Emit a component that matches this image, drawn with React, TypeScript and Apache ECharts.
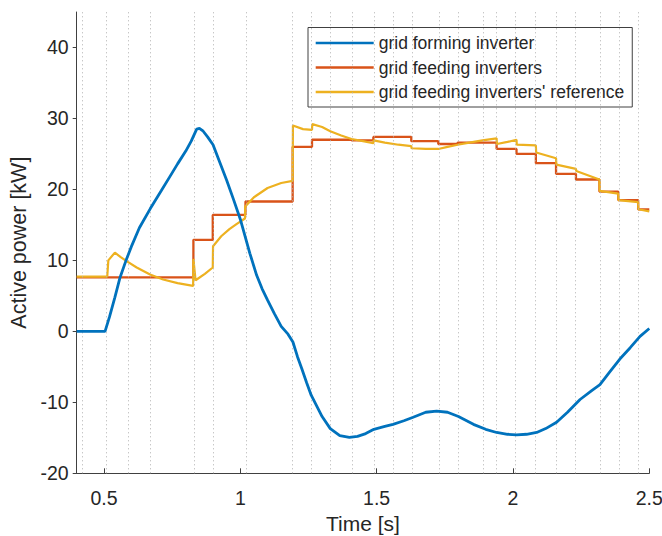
import React, { useEffect, useRef } from "react";
import * as echarts from "echarts";

// ---- data ----
const xTicks = [0.5, 1, 1.5, 2, 2.5];
const yTicks = [-20, -10, 0, 10, 20, 30, 40];

// times of the vertical dotted event lines [s]
const eventTimes = [
  0.418, 0.512, 0.593, 0.672, 0.827, 0.897, 1.019, 1.192, 1.263, 1.332, 1.408,
  1.488, 1.557, 1.627, 1.726, 1.797, 1.888, 1.94, 2.013, 2.084, 2.158, 2.231,
  2.317, 2.386, 2.459,
];

// grid forming inverter [time, kW]
const formingPower: [number, number][] = [
  [0.4, 0], [0.504, 0], [0.52, 2.0], [0.54, 4.8], [0.559, 7.6], [0.58, 9.9],
  [0.6, 11.9], [0.63, 14.6], [0.67, 17.3], [0.71, 19.8], [0.74, 21.7],
  [0.77, 23.6], [0.8, 25.4], [0.82, 26.8], [0.84, 28.5], [0.85, 28.6],
  [0.864, 28.2], [0.88, 27.4], [0.9, 26.3], [0.925, 23.8], [0.95, 21.3],
  [0.975, 18.6], [1.0, 15.8], [1.035, 11.0], [1.06, 7.9], [1.08, 6.0],
  [1.1, 4.4], [1.125, 2.5], [1.15, 0.7], [1.175, -0.4], [1.193, -1.5],
  [1.21, -3.6], [1.225, -5.2], [1.243, -7.2], [1.26, -9.0], [1.28, -10.5],
  [1.3, -12.0], [1.33, -13.7], [1.365, -14.7], [1.4, -14.95], [1.43, -14.8],
  [1.46, -14.4], [1.49, -13.8], [1.53, -13.4], [1.56, -13.1], [1.6, -12.6],
  [1.634, -12.1], [1.68, -11.4], [1.72, -11.25], [1.76, -11.4], [1.8, -12.0],
  [1.855, -13.1], [1.9, -13.8], [1.94, -14.25], [1.98, -14.5], [2.013, -14.6],
  [2.05, -14.5], [2.087, -14.25], [2.12, -13.7], [2.16, -12.8], [2.2, -11.4],
  [2.246, -9.6], [2.29, -8.3], [2.319, -7.5], [2.355, -5.7], [2.392, -3.9],
  [2.43, -2.3], [2.466, -0.7], [2.5, 0.4],
];

// grid feeding inverters (held values, step) [time, kW]
const feedingPower: [number, number][] = [
  [0.4, 7.6], [0.828, 12.9], [0.899, 16.4], [1.019, 18.3], [1.192, 26.0],
  [1.263, 27.0], [1.408, 26.9], [1.488, 27.4], [1.627, 26.8], [1.726, 26.4],
  [1.797, 26.6], [1.94, 25.7], [2.013, 25.0], [2.084, 23.7], [2.158, 22.2],
  [2.231, 21.4], [2.317, 19.7], [2.386, 18.5], [2.459, 17.2], [2.5, 17.2],
];

// grid feeding inverters' reference [time, kW]
const referencePower: [number, number][] = [
  [0.4, 7.7], [0.512, 7.7], [0.516, 10.0], [0.54, 11.1], [0.56, 10.5],
  [0.583, 9.9], [0.62, 9.0], [0.669, 8.0], [0.717, 7.3], [0.77, 6.8],
  [0.827, 6.4], [0.828, 10.2], [0.836, 7.2], [0.87, 8.1], [0.899, 9.0],
  [0.9, 12.0], [0.93, 13.4], [0.96, 14.4], [0.986, 15.1], [1.017, 15.9],
  [1.018, 17.6], [1.05, 18.9], [1.1, 20.2], [1.15, 20.9], [1.192, 21.2],
  [1.193, 29.0], [1.23, 28.5], [1.263, 28.4], [1.264, 29.2], [1.3, 28.8],
  [1.33, 28.2], [1.37, 27.6], [1.408, 27.1], [1.45, 26.8], [1.488, 26.5],
  [1.489, 26.9], [1.53, 26.6], [1.58, 26.3], [1.627, 26.1], [1.628, 25.8],
  [1.68, 25.7], [1.726, 25.7], [1.76, 26.0], [1.797, 26.3], [1.84, 26.6],
  [1.888, 26.9], [1.94, 27.2], [1.941, 26.4], [1.98, 26.7], [2.013, 27.0],
  [2.014, 26.3], [2.084, 26.2], [2.085, 25.2], [2.158, 24.4], [2.159, 23.5],
  [2.231, 22.9], [2.232, 22.6], [2.317, 21.4], [2.318, 19.8], [2.386, 19.4],
  [2.387, 18.5], [2.459, 18.2], [2.46, 17.2], [2.5, 16.9],
];

const FONT = "'Liberation Sans', Arial, Helvetica, sans-serif";
const TXT = "#262626";

export default function App() {
  const ref = useRef<HTMLDivElement>(null);
  useEffect(() => {
    if (!ref.current) return;
    const chart = echarts.init(ref.current, undefined, { renderer: "svg" });
    chart.setOption({
      animation: false,
      backgroundColor: "#ffffff",
      textStyle: { fontFamily: FONT },
      grid: {
        left: 76.7,
        right: 12.7,
        top: 12,
        bottom: 62.7,
        containLabel: false,
        outerBoundsMode: "none",
      },
      legend: {
        data: [
          "grid forming inverter",
          "grid feeding inverters",
          "grid feeding inverters' reference",
        ],
        orient: "vertical",
        left: 308,
        top: 27.5,
        icon: "rect",
        itemWidth: 58,
        itemHeight: 2.6,
        itemGap: 6.5,
        padding: [6.5, 8, 6, 7.7],
        backgroundColor: "#ffffff",
        borderColor: "#404040",
        borderWidth: 1,
        borderRadius: 0,
        textStyle: { fontFamily: FONT, fontSize: 17.5, color: TXT },
      },
      xAxis: {
        type: "value",
        min: 0.4,
        max: 2.5,
        name: "Time [s]",
        nameLocation: "middle",
        nameGap: 38,
        nameTextStyle: { fontFamily: FONT, fontSize: 21, color: TXT },
        axisLine: { show: true, onZero: false, lineStyle: { color: "#404040", width: 1 } },
        axisTick: { show: true, inside: true, length: 5, customValues: xTicks, lineStyle: { color: "#404040" } },
        axisLabel: {
          customValues: xTicks,
          fontFamily: FONT,
          fontSize: 19.5,
          color: TXT,
          margin: 15,
          formatter: (v: number) => String(v),
        },
        splitLine: { show: false },
      },
      yAxis: {
        type: "value",
        min: -20,
        max: 45,
        name: "Active power [kW]",
        nameLocation: "middle",
        nameGap: 45,
        nameRotate: 90,
        nameTextStyle: { fontFamily: FONT, fontSize: 21.5, color: TXT },
        axisLine: { show: true, onZero: false, lineStyle: { color: "#404040", width: 1 } },
        axisTick: { show: true, inside: false, length: 4, customValues: yTicks, lineStyle: { color: "#404040" } },
        axisLabel: {
          customValues: yTicks,
          fontFamily: FONT,
          fontSize: 19.5,
          color: TXT,
          margin: 8,
        },
        splitLine: { show: false },
      },
      series: [
        {
          name: "events",
          type: "line",
          data: [],
          z: 1,
          silent: true,
          markLine: {
            silent: true,
            symbol: ["none", "none"],
            label: { show: false },
            lineStyle: { color: "#b0b0b0", width: 1, type: [1, 3] },
            data: eventTimes.map((t) => ({ xAxis: t })),
          },
        },
        {
          name: "grid forming inverter",
          type: "line",
          data: formingPower,
          symbol: "none",
          showSymbol: false,
          z: 5,
          lineStyle: { color: "#0072BD", width: 2.8 },
          itemStyle: { color: "#0072BD" },
        },
        {
          name: "grid feeding inverters",
          type: "line",
          data: feedingPower,
          step: "end",
          symbol: "none",
          showSymbol: false,
          z: 3,
          lineStyle: { color: "#D95319", width: 2.3 },
          itemStyle: { color: "#D95319" },
        },
        {
          name: "grid feeding inverters' reference",
          type: "line",
          data: referencePower,
          symbol: "none",
          showSymbol: false,
          z: 4,
          lineStyle: { color: "#EDB120", width: 2.2 },
          itemStyle: { color: "#EDB120" },
        },
      ],
    });
    return () => chart.dispose();
  }, []);
  return <div ref={ref} style={{ width: 662, height: 536, position: "absolute", left: 0, top: 0 }} />;
}
